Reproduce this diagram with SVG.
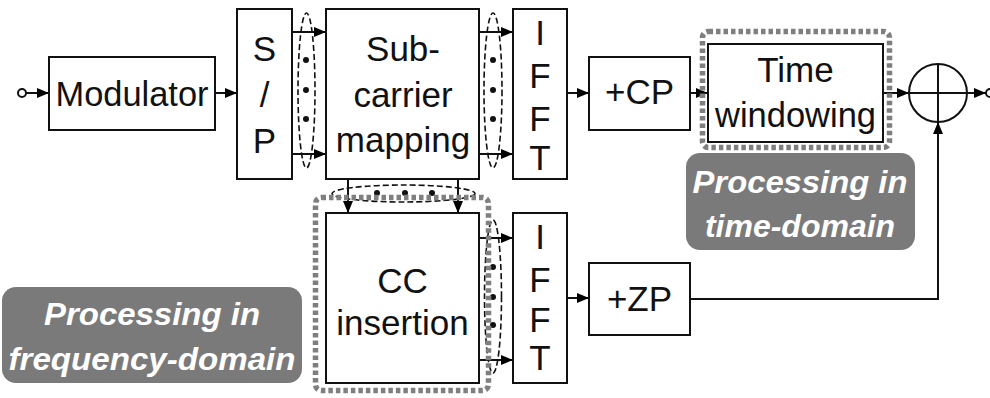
<svg xmlns="http://www.w3.org/2000/svg" width="990" height="398" viewBox="0 0 990 398">
<defs>
<marker id="arr" markerUnits="userSpaceOnUse" markerWidth="14" markerHeight="12" refX="12" refY="6" orient="auto">
<path d="M0,1 L12,6 L0,11 Z" fill="#000"/>
</marker>
<style>
.box{fill:#fff;stroke:#111;stroke-width:2}
.t{font-family:"Liberation Sans",Arial,sans-serif;font-size:35px;fill:#111;text-anchor:middle}
.ln{fill:none;stroke:#111;stroke-width:2}
.dash{fill:none;stroke:#111;stroke-width:1.6;stroke-dasharray:6 3}
.dot{fill:#111}
.frame{fill:none;stroke:#7f7f7f;stroke-width:5.5;stroke-dasharray:4.5 3}
.lbl{fill:#7a7a7a}
.lt{font-family:"Liberation Sans",Arial,sans-serif;font-size:32px;font-weight:bold;font-style:italic;fill:#fff;text-anchor:middle}
</style>
</defs>
<rect width="990" height="398" fill="#fff"/>

<g id="connectors">
<circle cx="22" cy="93" r="4" fill="#fff" stroke="#111" stroke-width="2"/>
<line class="ln" x1="26" y1="93" x2="49" y2="93" marker-end="url(#arr)"/>
<line class="ln" x1="215" y1="93" x2="237" y2="93" marker-end="url(#arr)"/>
<line class="ln" x1="292" y1="32" x2="326" y2="32" marker-end="url(#arr)"/>
<line class="ln" x1="292" y1="154" x2="326" y2="154" marker-end="url(#arr)"/>
<line class="ln" x1="479" y1="32" x2="513" y2="32" marker-end="url(#arr)"/>
<line class="ln" x1="479" y1="154" x2="513" y2="154" marker-end="url(#arr)"/>
<line class="ln" x1="567" y1="93" x2="589" y2="93" marker-end="url(#arr)"/>
<line class="ln" x1="690" y1="93" x2="708" y2="93" marker-end="url(#arr)"/>
<line class="ln" x1="883" y1="93" x2="909" y2="93" marker-end="url(#arr)"/>
<line class="ln" x1="966" y1="93" x2="986" y2="93" marker-end="url(#arr)"/>
<circle cx="990" cy="93" r="4" fill="#fff" stroke="#111" stroke-width="2"/>
<line class="ln" x1="348" y1="179" x2="348" y2="213" marker-end="url(#arr)"/>
<line class="ln" x1="458" y1="179" x2="458" y2="213" marker-end="url(#arr)"/>
<line class="ln" x1="479" y1="238" x2="513" y2="238" marker-end="url(#arr)"/>
<line class="ln" x1="479" y1="360" x2="513" y2="360" marker-end="url(#arr)"/>
<line class="ln" x1="567" y1="298" x2="589" y2="298" marker-end="url(#arr)"/>
<polyline class="ln" points="690,299 938,299 938,122" marker-end="url(#arr)"/>
<ellipse class="dash" cx="306.5" cy="90.5" rx="8.5" ry="77.5"/>
<circle class="dot" cx="306" cy="60" r="3"/><circle class="dot" cx="306" cy="90" r="3"/><circle class="dot" cx="306" cy="119" r="3"/>
<ellipse class="dash" cx="493" cy="90.5" rx="9" ry="77.5"/>
<circle class="dot" cx="493" cy="60" r="3"/><circle class="dot" cx="493" cy="90" r="3"/><circle class="dot" cx="493" cy="119" r="3"/>
<ellipse class="dash" cx="403.5" cy="193.5" rx="71.5" ry="8.5"/>
<circle class="dot" cx="377" cy="193" r="3"/><circle class="dot" cx="405" cy="193" r="3"/><circle class="dot" cx="432" cy="193" r="3"/>
<ellipse class="dash" cx="493" cy="296.5" rx="8.5" ry="76.5"/>
<circle class="dot" cx="493" cy="267" r="3"/><circle class="dot" cx="493" cy="297" r="3"/><circle class="dot" cx="493" cy="325" r="3"/>
</g>

<g id="modulator"><rect class="box" x="49" y="57" width="166" height="73"/><text class="t" x="132" y="106" textLength="153" lengthAdjust="spacingAndGlyphs">Modulator</text></g>
<g id="sp"><rect class="box" x="237" y="9" width="55" height="170"/>
<text class="t" x="264.5" y="61">S</text><text class="t" x="264.5" y="107">/</text><text class="t" x="264.5" y="153">P</text></g>
<g id="subcarrier"><rect class="box" x="326" y="9" width="153" height="170"/>
<text class="t" x="403" y="61">Sub-</text><text class="t" x="403" y="107">carrier</text><text class="t" x="403" y="152">mapping</text></g>
<g id="ifft1"><rect class="box" x="513" y="9" width="54" height="170"/>
<text class="t" x="540" y="45">I</text><text class="t" x="540" y="88">F</text><text class="t" x="540" y="131">F</text><text class="t" x="540" y="170">T</text></g>
<g id="cp"><rect class="box" x="589" y="57" width="101" height="73"/><text class="t" x="639.5" y="104">+CP</text></g>
<g id="timewin"><rect class="frame" x="702.5" y="31.5" width="187" height="116" rx="6"/>
<rect class="box" x="708" y="44" width="175" height="98"/>
<text class="t" x="795.5" y="82">Time</text><text class="t" x="795.5" y="127" textLength="161" lengthAdjust="spacingAndGlyphs">windowing</text></g>
<g id="sum"><circle cx="938" cy="93" r="29" fill="none" stroke="#111" stroke-width="2"/>
<line class="ln" x1="909" y1="93" x2="967" y2="93"/><line class="ln" x1="938" y1="64" x2="938" y2="122"/></g>
<g id="ccins"><rect class="frame" x="315.5" y="197.5" width="173" height="193" rx="6"/>
<rect class="box" x="326" y="213" width="153" height="170"/>
<text class="t" x="402.5" y="293">CC</text><text class="t" x="402.5" y="335">insertion</text></g>
<g id="ifft2"><rect class="box" x="513" y="213" width="54" height="170"/>
<text class="t" x="540" y="249">I</text><text class="t" x="540" y="292">F</text><text class="t" x="540" y="332">F</text><text class="t" x="540" y="370">T</text></g>
<g id="zp"><rect class="box" x="589" y="263" width="101" height="72"/><text class="t" x="639.5" y="311">+ZP</text></g>
<g id="label-time"><rect class="lbl" x="686" y="153" width="229" height="97" rx="14"/>
<text class="lt" x="800" y="193" textLength="215" lengthAdjust="spacingAndGlyphs">Processing in</text><text class="lt" x="800" y="237">time-domain</text></g>
<g id="label-freq"><rect class="lbl" x="2" y="287" width="300" height="96" rx="14"/>
<text class="lt" x="152" y="325" textLength="216" lengthAdjust="spacingAndGlyphs">Processing in</text><text class="lt" x="152" y="370" textLength="287" lengthAdjust="spacingAndGlyphs">frequency-domain</text></g>
</svg>
